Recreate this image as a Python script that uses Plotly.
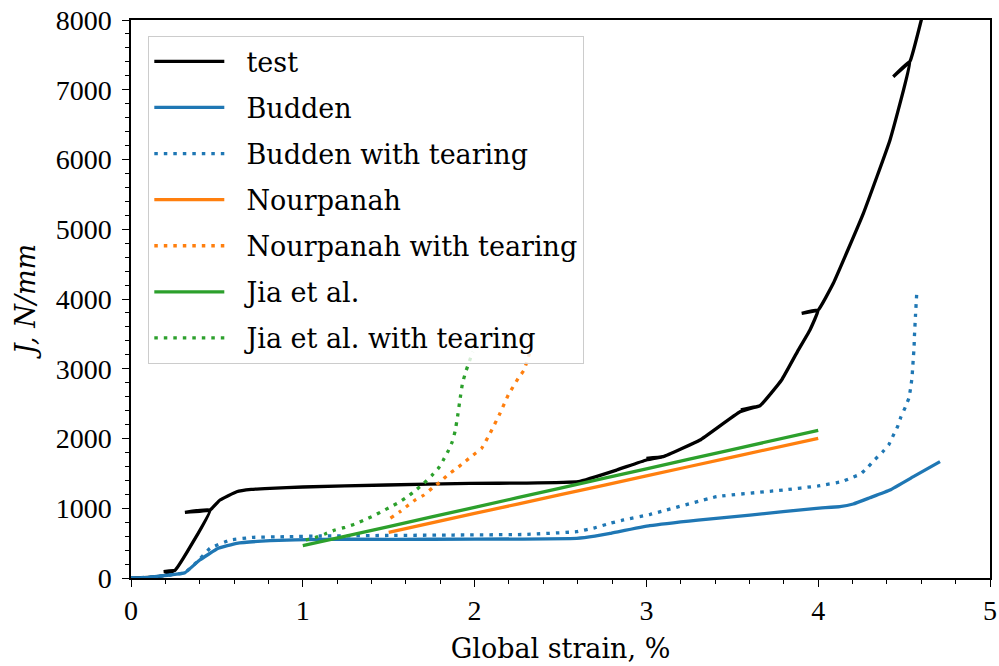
import plotly.graph_objects as go

# Measured J-integral versus global strain (with unload/reload hooks)
TEST_X = [0, 0.1, 0.2, 0.256, 0.19, 0.256, 0.46, 0.314, 0.46, 0.518, 0.615, 0.70, 0.809,
          1.0, 1.488, 1.973, 2.3, 2.604, 2.827, 3.0, 3.098, 3.0, 3.098, 3.312, 3.545, 3.661,
          3.55, 3.661, 3.787, 3.88, 3.952, 4.0, 3.904, 4.0, 4.088, 4.263, 4.418, 4.535, 4.437,
          4.535, 4.60, 4.62]
TEST_Y = [0, 10, 40, 110, 92, 110, 975, 942, 975, 1118, 1237, 1270, 1286,
          1305, 1333, 1357, 1360, 1381, 1548, 1692, 1739, 1716, 1739, 1978, 2384, 2470,
          2410, 2470, 2839, 3250, 3556, 3842, 3795, 3842, 4225, 5228, 6280, 7412, 7187,
          7412, 8000, 8200]

# Budden model
BUDDEN_X = [0, 0.1, 0.227, 0.314, 0.40, 0.508, 0.615, 0.81, 1.1, 1.5, 2.0, 2.594, 2.7,
            2.788, 3.02, 3.3, 3.603, 3.99, 4.126, 4.204, 4.3, 4.418, 4.554, 4.709]
BUDDEN_Y = [0, 10, 43, 76, 258, 426, 497, 535, 555, 555, 556, 569, 600,
            640, 750, 830, 903, 999, 1022, 1061, 1150, 1262, 1453, 1668]

BUDDEN_TEAR_X = [0, 0.1, 0.227, 0.314, 0.40, 0.46, 0.576, 0.712, 0.906, 1.1, 1.5, 1.876,
                 2.3, 2.594, 2.7, 2.788, 2.866, 3.02, 3.41, 3.797, 4.0, 4.137, 4.195, 4.247,
                 4.292, 4.331, 4.373, 4.412, 4.437, 4.462, 4.482, 4.507, 4.528, 4.538,
                 4.546, 4.55, 4.554, 4.558, 4.56, 4.566, 4.573]
BUDDEN_TEAR_Y = [0, 10, 43, 76, 270, 426, 545, 583, 592, 602, 610, 616,
                 625, 664, 720, 784, 832, 910, 1166, 1262, 1320, 1381, 1439, 1491,
                 1596, 1701, 1802, 1917, 2045, 2170, 2313, 2447, 2581, 2724,
                 2872, 3015, 3164, 3307, 3459, 3750, 4060]

# Nourpanah model
NOUR_X = [1.5, 2.0, 2.5, 3.0, 3.5, 4.0]
NOUR_Y = [655, 925, 1194, 1464, 1733, 2003]

NOUR_TEAR_X = [1.51, 1.566, 1.608, 1.653, 1.705, 1.756, 1.802, 1.847, 1.896, 1.944, 1.992,
               2.041, 2.09, 2.148, 2.196, 2.254, 2.288, 2.307, 2.325]
NOUR_TEAR_Y = [860, 951, 1032, 1118, 1190, 1295, 1381, 1486, 1572, 1668, 1763,
               1859, 2074, 2361, 2624, 2863, 2982, 3125, 3260]

# Jia et al. model
JIA_X = [1.0, 1.5, 2.0, 2.5, 3.0, 3.5, 4.0]
JIA_Y = [463, 737, 1013, 1290, 1566, 1842, 2117]

JIA_TEAR_X = [1.017, 1.075, 1.129, 1.187, 1.246, 1.3, 1.356, 1.41, 1.465, 1.513, 1.566,
              1.61, 1.659, 1.705, 1.75, 1.789, 1.818, 1.847, 1.87, 1.886, 1.90, 1.915,
              1.93, 1.95, 1.969, 1.989]
JIA_TEAR_Y = [545, 583, 631, 688, 727, 770, 831, 889, 961, 1022, 1094,
              1166, 1262, 1358, 1467, 1572, 1692, 1825, 1954, 2098, 2300, 2560,
              2800, 2968, 3101, 3244]

X_TICKS = [0, 1, 2, 3, 4, 5]
Y_TICKS = [0, 1000, 2000, 3000, 4000, 5000, 6000, 7000, 8000]

BLUE, ORANGE, GREEN = "#1f77b4", "#ff7f0e", "#2ca02c"
LW = 3.3
DOT = "3.5px,6px"
TEXT_FONT = "DejaVu Serif"
TICK_FONT = "Liberation Serif"
PAD = "\u00a0\u00a0"  # extra gap between legend line and label

series = [
    ("test", TEST_X, TEST_Y, "black", "solid"),
    ("Budden", BUDDEN_X, BUDDEN_Y, BLUE, "solid"),
    ("Budden with tearing", BUDDEN_TEAR_X, BUDDEN_TEAR_Y, BLUE, DOT),
    ("Nourpanah", NOUR_X, NOUR_Y, ORANGE, "solid"),
    ("Nourpanah with tearing", NOUR_TEAR_X, NOUR_TEAR_Y, ORANGE, DOT),
    ("Jia et al.", JIA_X, JIA_Y, GREEN, "solid"),
    ("Jia et al. with tearing", JIA_TEAR_X, JIA_TEAR_Y, GREEN, DOT),
]

fig = go.Figure()
for i, (name, xs, ys, color, dash) in enumerate(series):
    fig.add_trace(go.Scatter(
        x=xs, y=ys, mode="lines", name=PAD + name, legendgroup=f"g{i}",
        line=dict(color=color, width=LW, dash=dash, shape="spline", smoothing=0.3),
    ))

axis_common = dict(
    showgrid=False, zeroline=False, showline=True, mirror=True, automargin=False,
    linecolor="black", linewidth=1.5, ticks="outside", ticklen=7, tickwidth=1.3,
    tickcolor="black", tickfont=dict(family=TICK_FONT, size=28, color="black"),
)

fig.update_layout(
    width=999, height=666,
    margin=dict(l=131, r=9, t=20, b=88),
    paper_bgcolor="white", plot_bgcolor="white",
    font=dict(family=TEXT_FONT, size=27, color="black"),
    xaxis=dict(range=[0, 5], tickvals=X_TICKS,
               minor=dict(dtick=0.2, ticks="outside", ticklen=4, tickcolor="black"),
               title=dict(text="Global strain, %", font=dict(family=TEXT_FONT, size=27),
                          standoff=14),
               **axis_common),
    yaxis=dict(range=[0, 8000], tickvals=Y_TICKS, ticklabelstandoff=5,
               minor=dict(dtick=200, ticks="outside", ticklen=4, tickcolor="black"),
               title=dict(text="<i>J, N/mm</i>", font=dict(family=TEXT_FONT, size=27),
                          standoff=12),
               **axis_common),
    legend=dict(x=0.0198, y=0.9713, xanchor="left", yanchor="top",
                bgcolor="rgba(255,255,255,0.8)", bordercolor="#cccccc", borderwidth=1.3,
                font=dict(family=TEXT_FONT, size=27, color="black"),
                tracegroupgap=8, itemwidth=70),
    showlegend=True,
)

fig.write_html("out.html")
